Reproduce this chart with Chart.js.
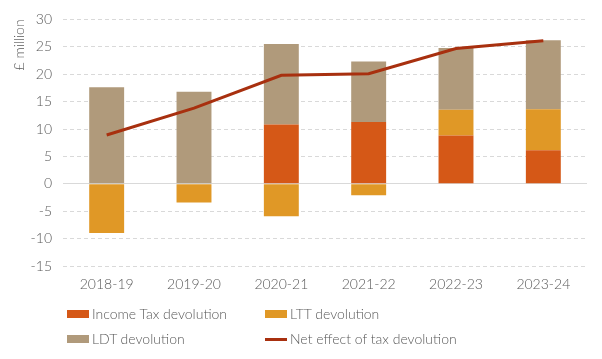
<!DOCTYPE html>
<html>
<head>
<meta charset="utf-8">
<script src="https://cdn.jsdelivr.net/npm/chart.js@4"></script>
<style>
  body { margin: 0; background: #fff; font-family: "Lato", sans-serif; }
  #wrap { position: relative; width: 602px; height: 296px; }
  #legend { position: absolute; left: 0; top: 0; width: 602px; height: 359px; pointer-events: none; }
  .item { position: absolute; font-size: 14px; font-weight: 300; color: #595959; line-height: 18px; white-space: nowrap; }
  .item span.box { position: absolute; left: -25px; top: 5px; width: 22px; height: 8px; }
  .item span.ln { position: absolute; left: -25px; top: 8px; width: 22px; height: 3px; }
</style>
</head>
<body>
<div id="wrap"><canvas id="chart" width="602" height="296"></canvas></div>
<div id="legend">
  <div class="item" style="left:92px;top:305px"><span class="box" style="background:#D55817"></span>Income Tax devolution</div>
  <div class="item" style="left:290px;top:305px"><span class="box" style="background:#E09826"></span>LTT devolution</div>
  <div class="item" style="left:92px;top:330px"><span class="box" style="background:#B09A7B"></span>LDT devolution</div>
  <div class="item" style="left:290px;top:330px"><span class="ln" style="background:#A8300F"></span>Net effect of tax devolution</div>
</div>
<script>
/* ---------- data ---------- */
const years = ["2018-19", "2019-20", "2020-21", "2021-22", "2022-23", "2023-24"];
const incomeTax = [0, 0, 10.8, 11.3, 8.8, 6.1];
const ltt = [-9.0, -3.4, -5.9, -2.1, 4.7, 7.5];
const ldt = [17.6, 16.8, 14.7, 11.0, 11.3, 12.6];
const netEffect = [8.9, 13.8, 19.8, 20.1, 24.7, 26.1];

const textColor = "#595959";
const gridColor = "#d9d9d9";
const tickFont = { family: "Lato", size: 14, weight: 300 };

new Chart(document.getElementById("chart"), {
    type: "bar",
    data: {
        labels: years,
        datasets: [
            { type: "line", label: "Net effect of tax devolution", data: netEffect, borderColor: "#A8300F",
              borderWidth: 3, pointRadius: 0, tension: 0, fill: false, stack: "net", order: 0 },
            { label: "Income Tax devolution", data: incomeTax, backgroundColor: "#D55817", stack: "tax", order: 1 },
            { label: "LTT devolution", data: ltt, backgroundColor: "#E09826", stack: "tax", order: 1 },
            { label: "LDT devolution", data: ldt, backgroundColor: "#B09A7B", stack: "tax", order: 1 }
        ]
    },
    options: {
        responsive: false,
        animation: false,
        devicePixelRatio: 1,
        layout: { padding: { left: 0, right: 15, top: 6, bottom: 0 } },
        datasets: { bar: { categoryPercentage: 1, barPercentage: 0.4 } },
        plugins: { legend: { display: false }, tooltip: { enabled: false } },
        scales: {
            x: {
                stacked: true,
                grid: { display: false },
                border: { display: false },
                ticks: { color: textColor, font: tickFont, padding: 2, maxRotation: 0 },
                afterFit: s => { s.height = 30; }
            },
            y: {
                stacked: true,
                min: -15, max: 30,
                ticks: { stepSize: 5, color: textColor, font: tickFont, padding: 11 },
                border: { display: false, dash: ctx => (ctx.tick && ctx.tick.value === 0) ? [] : [4, 3] },
                grid: { drawTicks: false, color: gridColor, lineWidth: 1 },
                title: { display: true, text: "£ million", align: "end", color: textColor, font: tickFont, padding: { top: 11, bottom: 0 } },
                afterFit: s => { s.width = 63; }
            }
        }
    }
});
</script>
</body>
</html>
